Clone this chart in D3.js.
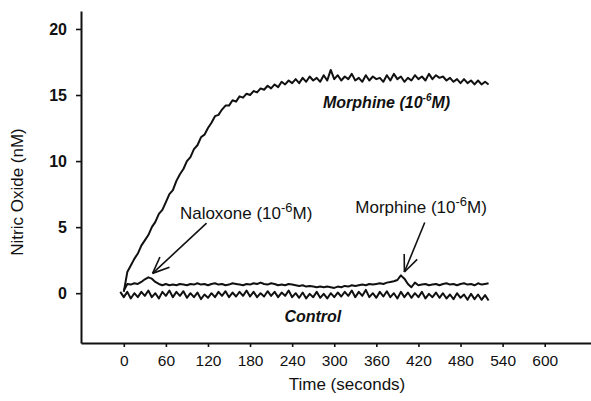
<!DOCTYPE html>
<html><head><meta charset="utf-8">
<script src="https://cdn.jsdelivr.net/npm/d3@7"></script>
<style>
body{margin:0;background:#fff;}
svg{display:block;font-family:"Liberation Sans",Arial,sans-serif;}
</style></head>
<body><svg id="c" width="591" height="401"></svg>
<script>
// ---- data ----
const times = [-5,0,5,10,15,20,25,30,35,40,45,50,55,60,65,70,75,80,85,90,95,100,105,110,115,120,125,130,135,140,145,150,155,160,165,170,175,180,185,190,195,200,205,210,215,220,225,230,235,240,245,250,255,260,265,270,275,280,285,290,295,300,305,310,315,320,325,330,335,340,345,350,355,360,365,370,375,380,385,390,395,400,405,410,415,420,425,430,435,440,445,450,455,460,465,470,475,480,485,490,495,500,505,510,515,520];
const morphine = [null,0.1,1.6,2.1,2.6,3.0,3.6,4.0,4.4,5.0,5.4,6.0,6.3,6.9,7.5,7.8,8.5,9.0,9.4,10.0,10.3,10.9,11.2,11.8,12.0,12.5,12.9,13.4,13.5,13.9,14.2,14.2,14.6,14.5,14.9,14.8,15.1,15.0,15.3,15.2,15.5,15.4,15.7,15.5,15.8,15.6,16.0,15.8,16.1,15.9,16.2,15.9,16.3,16.0,16.4,16.1,16.3,16.0,16.5,16.1,16.9,16.2,16.5,16.1,16.4,16.2,16.6,16.1,16.3,16.0,16.5,16.1,16.4,16.2,16.3,16.0,16.5,16.1,16.6,16.2,16.4,16.0,16.3,16.1,16.5,16.2,16.4,16.1,16.6,16.2,16.5,16.3,16.4,16.1,16.3,16.0,16.2,15.9,16.2,15.9,16.1,15.8,16.1,15.8,16.0,15.8];
const naloxone = [null,0.2,0.7,0.65,0.75,0.7,0.85,1.05,1.2,1.1,0.85,0.7,0.6,0.7,0.6,0.65,0.6,0.7,0.65,0.6,0.7,0.65,0.75,0.65,0.7,0.6,0.7,0.75,0.65,0.7,0.6,0.65,0.75,0.7,0.65,0.6,0.7,0.65,0.75,0.7,0.8,0.7,0.65,0.75,0.7,0.6,0.65,0.6,0.7,0.65,0.6,0.55,0.6,0.5,0.55,0.5,0.45,0.5,0.45,0.5,0.45,0.4,0.5,0.45,0.55,0.5,0.6,0.55,0.6,0.65,0.6,0.7,0.65,0.7,0.75,0.7,0.8,0.85,0.9,1.0,1.35,1.1,0.7,0.45,0.8,0.6,0.65,0.7,0.6,0.65,0.7,0.6,0.7,0.75,0.65,0.7,0.6,0.7,0.75,0.65,0.7,0.6,0.75,0.65,0.7,0.75];
const control = [0.1,-0.3,0.1,-0.4,0.0,-0.3,0.1,-0.2,0.2,-0.3,0.0,-0.4,0.1,-0.2,0.2,-0.3,0.1,-0.2,0.15,-0.35,0.0,-0.3,0.05,-0.45,-0.1,-0.35,0.0,-0.3,0.1,-0.2,0.15,-0.3,0.05,-0.25,0.1,-0.2,0.2,-0.25,0.1,-0.3,0.0,-0.25,0.15,-0.2,0.1,-0.3,0.05,-0.2,0.2,-0.3,0.0,-0.35,0.05,-0.4,-0.05,-0.3,0.1,-0.35,-0.05,-0.4,0.0,-0.3,0.05,-0.25,0.1,-0.2,0.2,-0.3,0.1,-0.2,0.25,-0.3,0.0,-0.35,0.1,-0.25,0.15,-0.3,0.0,-0.4,0.1,-0.3,0.05,-0.35,0.0,-0.3,0.1,-0.4,-0.05,-0.3,0.05,-0.35,0.0,-0.4,-0.1,-0.45,0.0,-0.35,-0.1,-0.5,-0.05,-0.45,-0.1,-0.5,-0.15,-0.55];
const xTicks = [0,60,120,180,240,300,360,420,480,540,600];
const yTicks = [0,5,10,15,20];
const xTitle = "Time (seconds)";
const yTitle = "Nitric Oxide (nM)";
// annotations: text labels and arrows anchored in data space
const labels = [
  {t:80, v:5.6, main:"Naloxone (10", sup:"-6", tail:"M)", style:"normal"},
  {t:330, v:6.1, main:"Morphine (10", sup:"-6", tail:"M)", style:"normal"},
  {t:284, v:14.0, main:"Morphine (10", sup:"-6", tail:"M)", style:"bi"},
  {t:229, v:-2.15, main:"Control", sup:"", tail:"", style:"bi"}
];
const arrows = [
  {t0:118, v0:5.3, t1:41, v1:1.5},
  {t0:429, v0:5.35, t1:400, v1:1.6}
];

// ---- chart ----
const svg = d3.select("#c");
const x = d3.scaleLinear().domain([-61, 666]).range([81, 591]);
const y = d3.scaleLinear().domain([-3.77, 21.36]).range([343, 11]);
const ink = "#111";

const xa = svg.append("g").attr("transform", `translate(0,${y(-3.77)})`)
  .call(d3.axisBottom(x).tickValues(xTicks).tickSize(4).tickPadding(8).tickSizeOuter(0));
const ya = svg.append("g").attr("transform", `translate(${x(-61)},0)`)
  .call(d3.axisLeft(y).tickValues(yTicks).tickSize(5).tickPadding(9).tickSizeOuter(0));
[xa, ya].forEach(a => {
  a.select(".domain").attr("stroke", ink).attr("stroke-width", 2);
  a.selectAll(".tick line").attr("stroke", ink).attr("stroke-width", 1.6);
  a.selectAll(".tick text").attr("fill", ink).attr("font-family", "Liberation Sans, Arial, sans-serif").attr("font-size", 15.5);
});
ya.selectAll(".tick text").attr("font-weight", "bold").attr("font-size", 16);

svg.append("text").attr("x", 347).attr("y", 390).attr("text-anchor", "middle")
  .attr("font-size", 17).attr("fill", ink).text(xTitle);
svg.append("text").attr("transform", "translate(23,192) rotate(-90)").attr("text-anchor", "middle")
  .attr("font-size", 17).attr("fill", ink).text(yTitle);

function series(vals) {
  return times.map((t, i) => ({t, v: vals[i]}));
}
const line = d3.line().defined(d => d.v !== null).x(d => x(d.t)).y(d => y(d.v));
[control, naloxone, morphine].forEach(vals => {
  svg.append("path").datum(series(vals)).attr("d", line)
    .attr("fill", "none").attr("stroke", ink).attr("stroke-width", 2)
    .attr("stroke-linejoin", "round");
});

labels.forEach(l => {
  const bi = l.style === "bi";
  const fs = bi ? 16 : 17;
  const tx = svg.append("text").attr("x", x(l.t)).attr("y", y(l.v))
    .attr("font-size", fs).attr("fill", ink)
    .attr("font-weight", bi ? "bold" : "normal").attr("font-style", bi ? "italic" : "normal");
  tx.append("tspan").text(l.main);
  if (l.sup) {
    tx.append("tspan").attr("dy", -7).attr("font-size", bi ? 10 : 13).text(l.sup);
    tx.append("tspan").attr("dy", 7).text(l.tail);
  }
});

arrows.forEach(a => {
  const x0 = x(a.t0), y0 = y(a.v0), x1 = x(a.t1), y1 = y(a.v1);
  svg.append("line").attr("x1", x0).attr("y1", y0).attr("x2", x1).attr("y2", y1)
    .attr("stroke", ink).attr("stroke-width", 1.6);
  const ang = Math.atan2(y0 - y1, x0 - x1);
  [-0.4, 0.4].forEach(da => {
    svg.append("line").attr("x1", x1).attr("y1", y1)
      .attr("x2", x1 + 18 * Math.cos(ang + da)).attr("y2", y1 + 18 * Math.sin(ang + da))
      .attr("stroke", ink).attr("stroke-width", 1.6);
  });
});
</script></body></html>
